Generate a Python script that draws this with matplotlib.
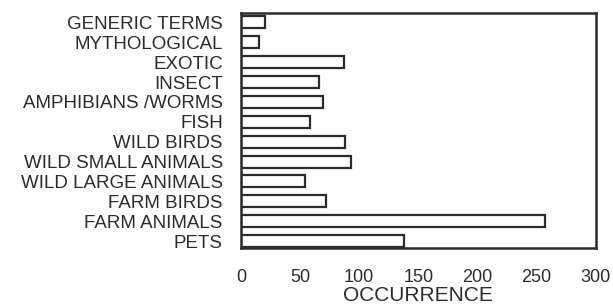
import matplotlib.pyplot as plt

plt.rcParams["font.family"] = ["Liberation Sans", "DejaVu Sans"]

# categories listed bottom to top
categories = [
    "PETS", "FARM ANIMALS", "FARM BIRDS", "WILD LARGE ANIMALS",
    "WILD SMALL ANIMALS", "WILD BIRDS", "FISH", "AMPHIBIANS /WORMS",
    "INSECT", "EXOTIC", "MYTHOLOGICAL", "GENERIC TERMS",
]
occurrence = [138, 257, 72, 54, 93, 88, 58, 69, 66, 87, 15, 20]
xticks = [0, 50, 100, 150, 200, 250, 300]

ink = "#2b2b2b"

fig = plt.figure(figsize=(6.13, 3.07), dpi=100)
ax = fig.add_axes([0.393, 0.192, 0.579, 0.766])

ax.barh(range(len(categories)), occurrence, height=0.6,
        facecolor="white", edgecolor=ink, linewidth=1.6)

ax.set_xlim(0, 300)
ax.set_ylim(-0.35, len(categories) - 0.52)
ax.set_xticks(xticks)
ax.set_yticks(range(len(categories)))
ax.set_yticklabels(categories)
ax.tick_params(axis="x", length=0, pad=15, labelsize=13, colors=ink)
ax.tick_params(axis="y", length=0, pad=13, labelsize=13.5, colors=ink)
ax.set_xlabel("OCCURRENCE", fontsize=15, color=ink, labelpad=0)

for sp in ax.spines.values():
    sp.set_color(ink)
    sp.set_linewidth(1.8)

fig.savefig("out.png", dpi=100)
